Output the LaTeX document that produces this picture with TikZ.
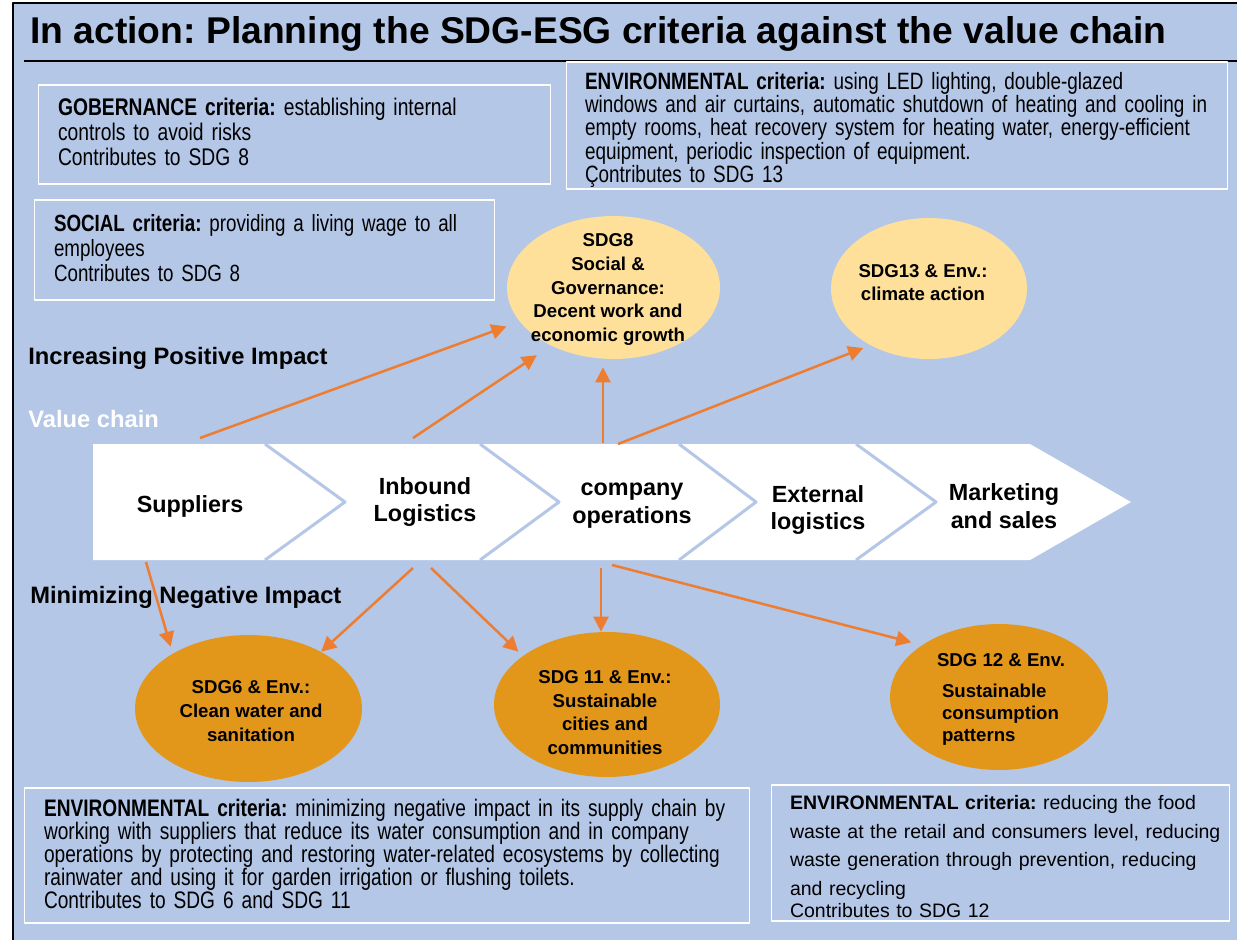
\documentclass[tikz,border=0pt]{standalone}
\usepackage{fontspec}
\setmainfont{Liberation Sans}
\newfontfamily\narrowsans[FakeStretch=0.8, WordSpace=0.8]{Liberation Sans}
\usetikzlibrary{arrows.meta,shapes.geometric}
\frenchspacing

\definecolor{panelblue}{RGB}{180,199,231}
\definecolor{arroworange}{RGB}{237,125,49}
\definecolor{sdgpale}{RGB}{255,224,154}
\definecolor{sdgdeep}{RGB}{226,150,26}

% left-aligned lines, never re-broken; optional space on top
\newcommand{\critlines}[2][0pt]{\vbox{\let\\\cr\halign{##\hfil\cr\noalign{\vskip#1}#2\crcr}}}

\begin{document}
\begin{tikzpicture}[x=0.02cm, y=-0.02cm, line join=round,
  critbox/.style={draw=white, line width=0.6pt, inner ysep=0pt, align=left},
  stage/.style={font=\bfseries\fontsize{13.3}{15.9}\selectfont, align=center, inner sep=0pt},
  heading/.style={font=\bfseries\fontsize{13.5}{16}\selectfont, anchor=west, inner sep=0pt},
  sdgup/.style={ellipse, fill=sdgpale, inner sep=0pt},
  sdgdown/.style={ellipse, fill=sdgdeep, inner sep=0pt},
  sdgtext/.style={font=\bfseries\fontsize{10.6}{13.5}\selectfont, align=center, inner sep=0pt},
  impact/.style={draw=arroworange, line width=0.05cm, -{Triangle[length=0.3cm,width=0.3cm]}},
  chevsep/.style={draw=panelblue, line width=0.06cm}]

% page and frame
\useasboundingbox (0,0) rectangle (1237,940);
\fill[panelblue] (13,3) rectangle (1237,940);
\draw[line width=0.04cm] (13,940) -- (13,3) -- (1237,3);

% title
\node[anchor=base west, inner sep=0pt, font=\bfseries\fontsize{21.2}{25}\selectfont] (title) at (30,43)
  {In action: Planning the SDG-ESG criteria against the value chain};
\draw[line width=0.04cm] (24,61) -- (1237,61);

% criteria boxes
\node[critbox, inner xsep=0.4cm, text width=9.46cm, minimum width=10.26cm, minimum height=1.98cm,
  font=\narrowsans\fontsize{13.7}{14.2}\selectfont] (gobbox) at (294.5,134.5)
  {\critlines[-0.12cm]{\textbf{GOBERNANCE criteria:} establishing internal\\
   controls to avoid risks\\
   Contributes to SDG 8}};
\node[critbox, inner xsep=0.38cm, text width=12.48cm, minimum width=13.24cm, minimum height=2.54cm,
  font=\narrowsans\fontsize{13.45}{13.2}\selectfont] (envtopbox) at (897,125.5)
  {\critlines[0.17cm]{\textbf{ENVIRONMENTAL criteria:} using LED lighting, double-glazed\\
   windows and air curtains, automatic shutdown of heating and cooling in\\
   empty rooms, heat recovery system for heating water, energy-efficient\\
   equipment, periodic inspection of equipment.\\
   Çontributes to SDG 13}};
\node[critbox, inner xsep=0.4cm, text width=8.42cm, minimum width=9.22cm, minimum height=2.0cm,
  font=\narrowsans\fontsize{13.35}{14.2}\selectfont] (socialbox) at (264.5,250)
  {\critlines[-0.08cm]{\textbf{SOCIAL criteria:} providing a living wage to all\\
   employees\\
   Contributes to SDG 8}};
\node[critbox, inner xsep=0.4cm, text width=13.72cm, minimum width=14.52cm, minimum height=2.7cm,
  font=\narrowsans\fontsize{13.6}{13.1}\selectfont] (envleftbox) at (387,855.5)
  {\critlines[-0.08cm]{\textbf{ENVIRONMENTAL criteria:} minimizing negative impact in its supply chain by\\
   working with suppliers that reduce its water consumption and in company\\
   operations by protecting and restoring water-related ecosystems by collecting\\
   rainwater and using it for garden irrigation or flushing toilets.\\
   Contributes to SDG 6 and SDG 11}};
\node[critbox, inner xsep=0.38cm, text width=8.42cm, minimum width=9.18cm, minimum height=2.72cm,
  font=\fontsize{11.1}{16.4}\selectfont] (envrightbox) at (1000.5,853)
  {\critlines[0.14cm]{\textbf{ENVIRONMENTAL criteria:} reducing the food\\
   waste at the retail and consumers level, reducing\\
   waste generation through prevention, reducing\\
   and recycling\cr\noalign{\vskip-0.14cm}
   Contributes to SDG 12}};

% value chain band
\fill[white] (93,444) -- (1030,444) -- (1131,502) -- (1030,560) -- (93,560) -- cycle;
\foreach \a/\b in {265/345, 480/559, 679/756, 856/936}
  \draw[chevsep] (\a,444) -- (\b,502) -- (\a,560);

\node[stage] (suppliers) at (190,506) {Suppliers};
\node[stage] (inbound) at (425,502) {Inbound\\Logistics};
\node[stage] (operations) at (632,506) {company\\operations};
\node[stage] (external) at (818,510) {External\\logistics};
\node[stage] (marketing) at (1004,506) {Marketing\\and sales};

% headings
\node[heading] (positive) at (28,358) {Increasing Positive Impact};
\node[heading, text=white] (valuechain) at (28,419) {Value chain};
\node[heading] (negative) at (30,597) {Minimizing Negative Impact};

% SDG ellipses
\node[sdgup, minimum width=4.26cm, minimum height=2.86cm] (sdg8) at (613.5,287.5) {};
\node[sdgup, minimum width=3.92cm, minimum height=2.82cm] (sdg13) at (929,288.5) {};
\node[sdgdown, minimum width=4.54cm, minimum height=2.94cm] (sdg6) at (248.5,708.5) {};
\node[sdgdown, minimum width=4.52cm, minimum height=2.9cm] (sdg11) at (607,704.5) {};
\node[sdgdown, minimum width=4.36cm, minimum height=2.92cm] (sdg12) at (999,697) {};

\node[sdgtext] (sdg8txt) at ([shift={(-5.5,2)}]sdg8.center)
  {SDG8\\Social \&\\Governance:\\Decent work and\\economic growth};
\node[sdgtext] (sdg13txt) at ([shift={(-6,-6)}]sdg13.center) {SDG13 \& Env.:\\climate action};
\node[sdgtext] (sdg6txt) at ([shift={(2.5,2.5)}]sdg6.center) {SDG6 \& Env.:\\Clean water and\\sanitation};
\node[sdgtext] (sdg11txt) at ([shift={(-2,8)}]sdg11.center)
  {SDG 11 \& Env.:\\Sustainable\\cities and\\communities};
\node[sdgtext, align=left, font=\bfseries\fontsize{10.6}{12.5}\selectfont] (sdg12txt)
  at ([shift={(2,2.5)}]sdg12.center)
  {SDG 12 \& Env.\\[0.18cm]\hspace*{0.1cm}Sustainable\\\hspace*{0.1cm}consumption\\\hspace*{0.1cm}patterns};

% arrow feet on the band
\coordinate (suppliersUp) at (200,438);
\coordinate (inboundUp) at (413,438);
\coordinate (operationsUp) at (603,443);
\coordinate (operationsUpR) at (618,444);
\coordinate (suppliersDown) at (146,562);
\coordinate (inboundDownL) at (413,568);
\coordinate (inboundDownR) at (431,568);
\coordinate (operationsDown) at (601,568);
\coordinate (operationsDownR) at (612,565);

% positive impact
\draw[impact, shorten >=0.28cm] (suppliersUp) -- (sdg8.200);
\draw[impact, shorten >=0.34cm] (inboundUp) -- (sdg8.223);
\draw[impact, shorten >=0.16cm] (operationsUp) -- (operationsUp |- sdg8.south);
\draw[impact, shorten >=0.15cm] (operationsUpR) -- (sdg13.224);

% negative impact
\draw[impact, shorten >=0.14cm] (suppliersDown) -- (sdg6.144);
\draw[impact] (inboundDownL) -- (sdg6.38);
\draw[impact, shorten >=0.12cm] (inboundDownR) -- (sdg11.150);
\draw[impact] (operationsDown) -- (operationsDown |- sdg11.north);
\draw[impact, shorten >=0.22cm] (operationsDownR) -- (sdg12.146);

\end{tikzpicture}
\end{document}
